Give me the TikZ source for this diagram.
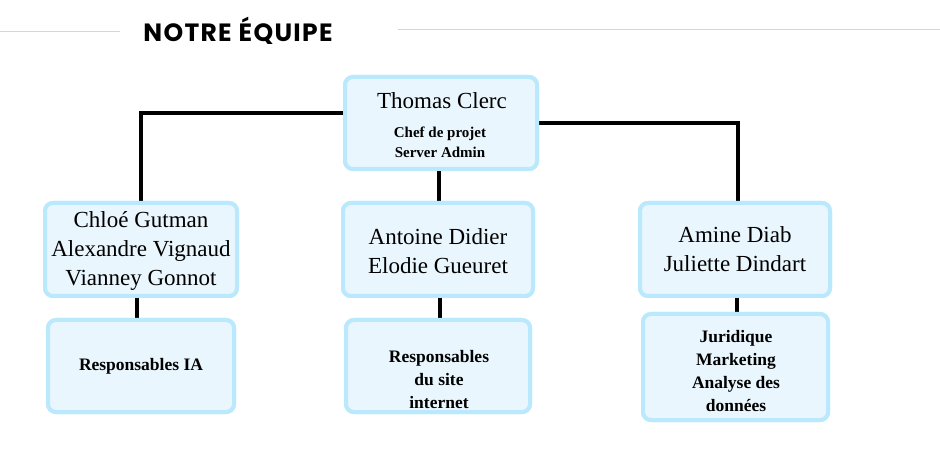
\documentclass[tikz,border=0pt]{standalone}
\usepackage{fontspec}
\setmainfont{Liberation Serif}
\newfontfamily\titlefont{Poppins}
\definecolor{boxborder}{RGB}{186,232,252}
\definecolor{boxfill}{RGB}{234,246,253}
\definecolor{pinkline}{RGB}{247,196,218}
\tikzset{
  box/.style={draw=boxborder, fill=boxfill, line width=4pt, rounded corners=8pt, inner sep=0pt},
  namesty/.style={align=center, font=\fontsize{23}{29}\selectfont, inner sep=0pt},
  rolesty/.style={align=center, font=\bfseries\fontsize{17.5}{23}\selectfont, inner sep=0pt},
  conn/.style={line width=4pt, black}
}
\begin{document}
\begin{tikzpicture}[x=1pt,y=-1pt]
\useasboundingbox (0,0) rectangle (940,470);
% title
\draw[pinkline, line width=1pt] (0,32) -- (120,32);
\draw[pinkline, line width=1pt] (398,30) -- (940,30);
\node (title) at (238,31) {\titlefont\bfseries\fontsize{25}{30}\selectfont N\kern1.3ptO\kern1.3ptT\kern1.3ptR\kern1.3ptE\kern7ptÉ\kern1.3ptQ\kern1.3ptU\kern1.3ptI\kern1.3ptP\kern1.3ptE};
% boxes
\node[box, minimum width=192pt, minimum height=92pt] (thomas) at (441,123) {};
\node[box, minimum width=192pt, minimum height=93pt] (chloe) at (141,249.5) {};
\node[box, minimum width=190pt, minimum height=93pt] (antoine) at (438,249.5) {};
\node[box, minimum width=190pt, minimum height=93pt] (amine) at (735,249.5) {};
\node[box, minimum width=186pt, minimum height=92pt] (ia) at (141,366) {};
\node[box, minimum width=184pt, minimum height=92pt] (site) at (438,366) {};
\node[box, minimum width=185pt, minimum height=106pt] (jur) at (735.5,367) {};
% connectors
\draw[conn] (chloe.north) |- ([yshift=10pt]thomas.west);
\draw[conn] (thomas.east) -| ([xshift=3pt]amine.north);
\draw[conn] ([xshift=-2pt]thomas.south) -- ([xshift=1pt]antoine.north);
\draw[conn] ([xshift=-4pt]chloe.south) -- ([xshift=-4pt]ia.north);
\draw[conn] ([xshift=2pt]antoine.south) -- ([xshift=2pt]site.north);
\draw[conn] ([xshift=2pt]amine.south) -- ([xshift=1.5pt]jur.north);
% redraw boxes over connector ends
\node[box, minimum width=192pt, minimum height=92pt] at (thomas) {};
\node[box, minimum width=192pt, minimum height=93pt] at (chloe) {};
\node[box, minimum width=190pt, minimum height=93pt] at (antoine) {};
\node[box, minimum width=190pt, minimum height=93pt] at (amine) {};
\node[box, minimum width=186pt, minimum height=92pt] at (ia) {};
\node[box, minimum width=184pt, minimum height=92pt] at (site) {};
\node[box, minimum width=185pt, minimum height=106pt] at (jur) {};
% texts
\node[namesty] (tname) at (442,101) {Thomas Clerc};
\node[align=center, font=\bfseries\fontsize{15}{20}\selectfont, inner sep=0pt] (trole) at (440,142) {Chef de projet\\Server Admin};
\node[namesty] (cnames) at (141,251) {Chloé Gutman\\Alexandre Vignaud\\Vianney Gonnot};
\node[namesty] (anames) at (438,251.5) {Antoine Didier\\Elodie Gueuret};
\node[namesty] (amnames) at (735,249.5) {Amine Diab\\Juliette Dindart};
\node[rolesty] (iarole) at (141,366) {Responsables IA};
\node[rolesty] (siterole) at (439,380) {Responsables\\du site\\internet};
\node[rolesty] (jurrole) at (736,371.5) {Juridique\\Marketing\\Analyse des\\données};
\end{tikzpicture}
\end{document}
